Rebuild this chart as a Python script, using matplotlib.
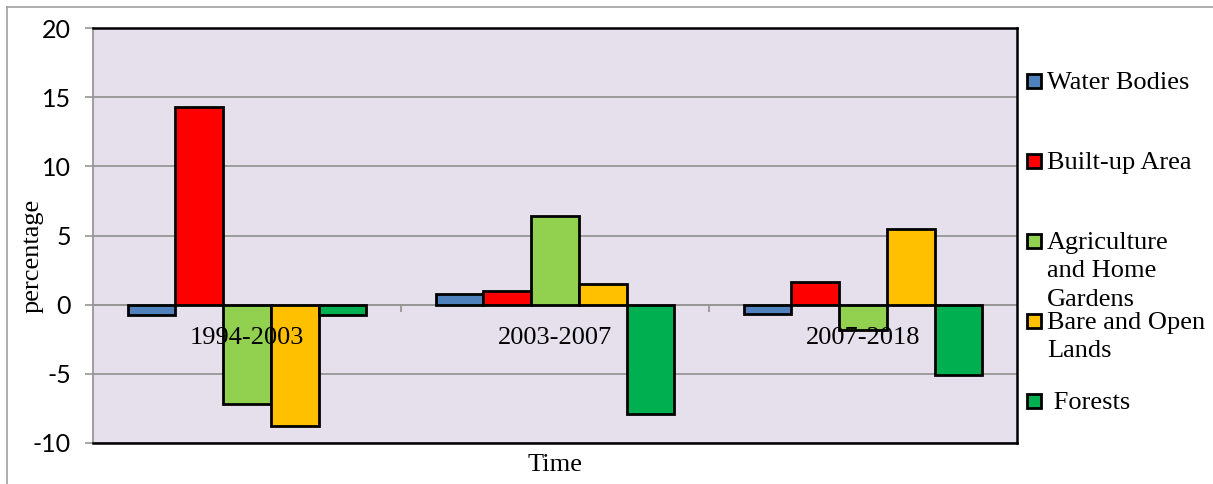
import matplotlib.pyplot as plt
from matplotlib.patches import Rectangle
from matplotlib.lines import Line2D
import numpy as np

periods = ['1994-2003', '2003-2007', '2007-2018']
classes = ['Water Bodies', 'Built-up Area', 'Agriculture\nand Home\nGardens',
           'Bare and Open\nLands', ' Forests']
water = [-0.72, 0.8, -0.7]
builtup = [14.3, 1.0, 1.65]
agri = [-7.2, 6.4, -1.8]
bare = [-8.75, 1.5, 5.5]
forests = [-0.75, -7.9, -5.1]
colors = ['#4F81BD', '#FF0000', '#92D050', '#FFC000', '#00B050']

series = [water, builtup, agri, bare, forests]

W, H = 1213, 484
fig = plt.figure(figsize=(W / 100, H / 100), dpi=100)
ax = fig.add_axes([93 / W, 1 - 443 / H, (1017 - 93) / W, (443 - 28) / H])
ax.set_facecolor('#E5E0EC')

serif = 'Liberation Serif'
x = np.arange(len(periods))
bw = 0.155
for k, vals in enumerate(series):
    ax.bar(x + (k - 2) * bw, vals, bw, color=colors[k], edgecolor='black',
           linewidth=2.0, zorder=3)

ax.set_xlim(-0.5, 2.5)
ax.set_ylim(-10, 20)
ax.set_yticks(range(-10, 21, 5))
ax.set_yticklabels([str(v) for v in range(-10, 21, 5)], fontfamily='Lato', fontsize=18)
ax.set_xticks([])
ax.yaxis.grid(True, color='#969696', linewidth=1.3, zorder=1)
ax.tick_params(axis='y', length=6, width=1.2, color='#969696', pad=10)

# zero axis with category separators
ax.axhline(0, color='#969696', linewidth=1.3, zorder=2)
ax.vlines([0.5, 1.5], -0.5, 0, color='#969696', linewidth=1.3, zorder=2)
for i, p in enumerate(periods):
    ax.text(x[i], -2.4, p, ha='center', va='center', fontfamily=serif,
            fontsize=19, zorder=4)

for s in ['top', 'bottom', 'right']:
    ax.spines[s].set_color('black')
    ax.spines[s].set_linewidth(1.8)
ax.spines['left'].set_color('#969696')
ax.spines['left'].set_linewidth(1.3)

ax.set_xlabel('Time', fontfamily=serif, fontsize=19, labelpad=8)
ax.set_ylabel('percentage', fontfamily=serif, fontsize=19)
ax.yaxis.set_label_coords(-0.054, 0.45)

# legend (manual, fixed spacing like the original)
for i, (lab, c) in enumerate(zip(classes, colors)):
    yp = 81 + i * 80
    fig.add_artist(Rectangle((1027 / W, 1 - (yp + 7) / H), 14 / W, 14 / H,
                             transform=fig.transFigure, facecolor=c,
                             edgecolor='black', linewidth=2.0))
    fig.text(1047 / W, 1 - (yp - 9) / H, lab, ha='left', va='top',
             fontfamily=serif, fontsize=19, linespacing=1.38)

# outer chart border
fig.add_artist(Line2D([7 / W, 7 / W], [0, 1 - 7 / H], color='#a0a0a0', linewidth=1.2))
fig.add_artist(Line2D([7 / W, 1], [1 - 7 / H, 1 - 7 / H], color='#a0a0a0', linewidth=1.2))

fig.savefig('out.png', dpi=100)
